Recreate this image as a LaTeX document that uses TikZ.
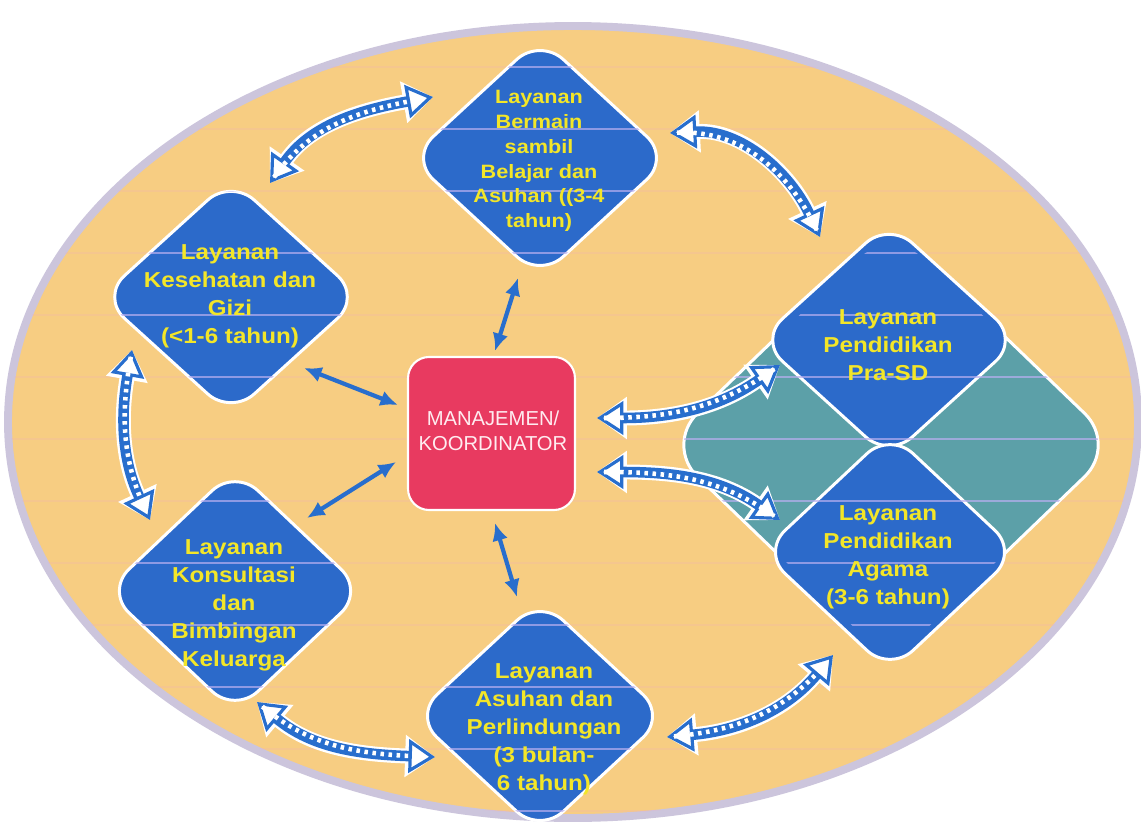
\documentclass[tikz,border=0pt]{standalone}
\usepackage{fontspec}
\setmainfont{Liberation Sans}
\newfontfamily\diafont[FakeStretch=1.12]{Liberation Sans}
\usetikzlibrary{arrows.meta,shapes.geometric}
\definecolor{ovalfill}{RGB}{247,205,130}
\definecolor{ovalrim}{RGB}{204,197,220}
\definecolor{diablue}{RGB}{44,106,202}
\definecolor{arrblue}{RGB}{40,110,205}
\definecolor{tealfill}{RGB}{92,160,168}
\definecolor{boxred}{RGB}{232,58,96}
\definecolor{txtyellow}{RGB}{243,230,40}
\definecolor{stripecol}{RGB}{185,175,240}
\definecolor{faintstripe}{RGB}{240,170,190}
\definecolor{boxtext}{RGB}{255,236,240}
\newcommand\blockarrow[4]{%
  \draw[blockhalo] (#1) to[out=#3,in=#4] (#2);
  \draw[blockband] (#1) to[out=#3,in=#4] (#2);
  \draw[blockdots] (#1) to[out=#3,in=#4] (#2);}
\begin{document}
\begin{tikzpicture}[x=0.02cm,y=-0.02cm,
  dia/.style={diamond, draw=white, line width=1.7pt, fill=diablue, rounded corners=18pt, inner sep=0pt, outer sep=0pt},
  diatext/.style={text=txtyellow, align=center, inner sep=0pt, font=\diafont\bfseries\fontsize{12.3}{15.9}\selectfont},
  blockhalo/.style={white, line width=8.5pt, {Triangle[length=17pt,width=23pt]}-{Triangle[length=17pt,width=23pt]}},
  blockband/.style={arrblue, line width=6pt, {Triangle[length=15pt,width=19pt,line width=1.8pt,fill=white]}-{Triangle[length=15pt,width=19pt,line width=1.8pt,fill=white]}},
  blockdots/.style={white, line width=2.6pt, dash pattern=on 2pt off 2.6pt, shorten <=4pt, shorten >=4pt},
  thinarr/.style={arrblue, line width=2.4pt, {Latex[length=10pt,width=9pt]}-{Latex[length=10pt,width=9pt]}}]
\useasboundingbox (0,0) rectangle (1141,824);
\fill[white] (0,0) rectangle (1141,824);
% oval
\draw[ovalrim, line width=4.5pt, fill=ovalfill] (573,422) ellipse [x radius=565, y radius=396];
\begin{scope}
  \clip (573,422) ellipse [x radius=562, y radius=393];
  \foreach \s in {0,...,12} \draw[faintstripe, opacity=0.2, line width=1pt] (0,{67+62*\s}) -- (1141,{67+62*\s});
\end{scope}
% diamonds
\node[dia, fill=tealfill, rounded corners=26pt, minimum width=257.8pt, minimum height=248pt] (big) at (891,445) {};
\node[dia, minimum width=148pt, minimum height=136.6pt] (top) at (540,158) {};
\node[dia, minimum width=148pt, minimum height=134.4pt] (kes) at (231,297) {};
\node[dia, minimum width=146.9pt, minimum height=138.9pt] (kon) at (235,591) {};
\node[dia, minimum width=143.5pt, minimum height=133.2pt] (asu) at (540,716) {};
\node[dia, minimum width=148pt, minimum height=134.4pt] (pra) at (889,340) {};
\node[dia, minimum width=145.7pt, minimum height=136.6pt] (aga) at (890,552) {};
% centre box
\node[draw=white, line width=1.2pt, fill=boxred, rounded corners=12pt, minimum width=95pt, minimum height=87.1pt, inner sep=0pt] (box) at (491.5,433.5) {};
% stripes inside diamonds
\begin{scope}
  \clip[rounded corners=18pt]
    (top.north) -- (top.east) -- (top.south) -- (top.west) -- cycle
    (kes.north) -- (kes.east) -- (kes.south) -- (kes.west) -- cycle
    (kon.north) -- (kon.east) -- (kon.south) -- (kon.west) -- cycle
    (asu.north) -- (asu.east) -- (asu.south) -- (asu.west) -- cycle
    [rounded corners=26pt] (big.north) -- (big.east) -- (big.south) -- (big.west) -- cycle;
  \foreach \s in {0,...,12} \draw[stripecol, opacity=0.7, line width=1.1pt] (0,{67+62*\s}) -- (1141,{67+62*\s});
\end{scope}
% connector end points
\coordinate (a1) at (270,183); \coordinate (a2) at (433,97);
\coordinate (b1) at (670,133); \coordinate (b2) at (820,237);
\coordinate (c1) at (132,350); \coordinate (c2) at (150,520);
\coordinate (d1) at (257,702); \coordinate (d2) at (435,757);
\coordinate (e1) at (667,737); \coordinate (e2) at (833,655);
\coordinate (f1) at (597,418); \coordinate (f2) at (780,365);
\coordinate (g1) at (597,472); \coordinate (g2) at (780,520);
\coordinate (t1a) at (518,278); \coordinate (t1b) at (495,351);
\coordinate (t2a) at (304,368); \coordinate (t2b) at (398,405);
\coordinate (t3a) at (307,518); \coordinate (t3b) at (396,462);
\coordinate (t4a) at (495,523); \coordinate (t4b) at (517,597);
% block arrows
\blockarrow{a1}{a2}{55}{190}
\blockarrow{b1}{b2}{3}{115}
\blockarrow{c1}{c2}{-100}{115}
\blockarrow{d1}{d2}{-40}{178}
\blockarrow{e1}{e2}{5}{230}
\blockarrow{f1}{f2}{0}{215}
\blockarrow{g1}{g2}{0}{145}
% thin arrows
\draw[thinarr] (t1a) -- (t1b);
\draw[thinarr] (t2a) -- (t2b);
\draw[thinarr] (t3a) -- (t3b);
\draw[thinarr] (t4a) -- (t4b);
% texts
\node[diatext, font=\diafont\bfseries\fontsize{11}{14.1}\selectfont] (toptxt) at (539,161) {Layanan\\Bermain\\sambil\\Belajar dan\\Asuhan ((3-4\\tahun)};
\node[diatext] (kestxt) at (230,296) {Layanan\\Kesehatan dan\\Gizi\\(<1-6 tahun)};
\node[diatext] (kontxt) at (234,605) {Layanan\\Konsultasi\\dan\\Bimbingan\\Keluarga};
\node[diatext] (asutxt) at (544,729) {Layanan\\Asuhan dan\\Perlindungan\\(3 bulan-\\6 tahun)};
\node[diatext] (pratxt) at (888,345) {Layanan\\Pendidikan\\Pra-SD};
\node[diatext] (agatxt) at (888,557) {Layanan\\Pendidikan\\Agama\\(3-6 tahun)};
\node[text=boxtext, align=center, inner sep=0pt, font=\fontsize{11.5}{14.2}\selectfont] (boxtxt) at (493,431) {MANAJEMEN/\\KOORDINATOR};
\end{tikzpicture}
\end{document}
